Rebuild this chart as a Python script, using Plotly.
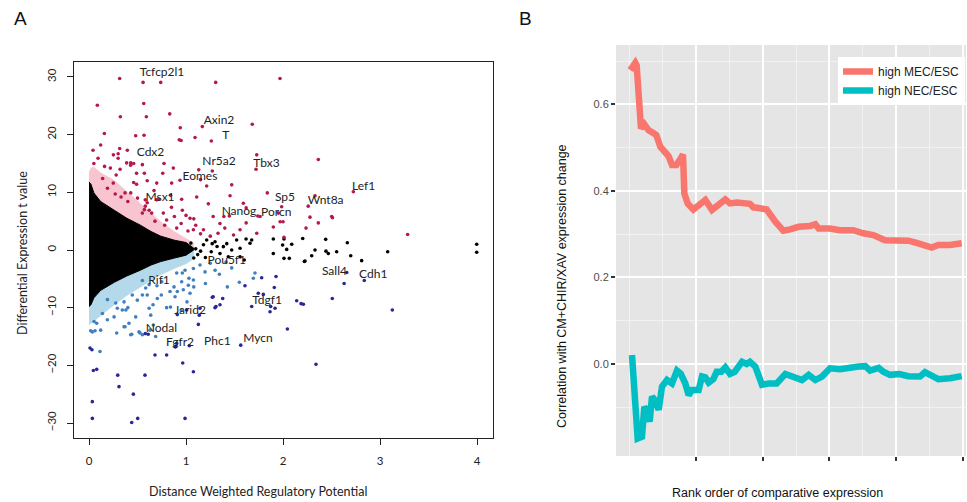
import plotly.graph_objects as go

W, H = 967, 502

# ---------------- Panel A data ----------------
# envelope of the dense point cloud
env_x = [0.0, 0.02, 0.05, 0.12, 0.26, 0.39, 0.53, 0.64, 0.74, 0.88, 1.0, 1.08]
black_top = [11.8, 11.4, 9.9, 8.4, 6.9, 5.5, 4.3, 3.2, 2.4, 1.7, 1.3, 0.3]
black_bottom = [-9.8, -9.5, -8.3, -7.0, -5.6, -4.5, -3.5, -2.6, -2.0, -1.4, -0.9, 0.0]
pink_top = [13.5, 14.2, 14.4, 13.4, 12.1, 10.2, 8.0, 6.4, 4.9, 3.2, 2.0, 1.2]
lblue_bottom = [-13.0, -12.7, -12.2, -11.3, -9.5, -7.9, -6.4, -5.3, -4.3, -3.2, -2.4, -1.5]

up_pts = [
    (0.316, 29.75), (0.557, 29.06), (0.739, 29.06), (1.306, 29.06), (1.969, 29.75),
    (0.086, 25.1), (0.564, 25.4), (0.323, 23.1), (0.591, 23.1), (0.832, 23.6),
    (0.158, 20.2), (0.481, 19.8), (0.567, 19.9), (0.941, 21.2), (0.93, 19.1), (0.95, 19.0),
    (1.093, 19.5), (1.168, 21.4), (1.261, 18.9), (1.683, 21.8), (1.729, 16.5), (2.364, 15.7),
    (1.722, 14.0), (0.041, 17.3), (0.316, 17.6), (0.395, 17.3), (0.251, 16.5), (0.093, 15.9),
    (0.30, 15.9), (0.429, 14.7), (0.46, 15.0), (0.773, 15.0), (0.869, 14.2), (0.852, 11.6),
    (0.698, 11.6), (0.57, 13.3), (0.55, 14.8), (0.60, 12.0), (1.271, 13.7), (1.131, 13.9),
    (1.471, 11.3), (1.454, 9.4), (0.938, 12.1), (1.213, 11.1), (1.15, 12.2), (1.838, 9.9),
    (1.591, 8.1), (1.62, 7.3), (1.763, 5.8), (1.952, 6.4), (1.986, 7.5), (1.97, 4.9),
    (2.0, 4.9), (2.01, 2.2), (2.26, 7.6), (2.33, 9.4), (2.278, 5.7), (2.237, 3.8),
    (2.364, 4.7), (2.502, 5.8), (2.51, 5.6), (2.725, 10.1), (3.285, 2.7), (1.447, 5.9),
    (1.39, 5.8), (1.35, 4.6), (1.49, 2.6), (1.557, 3.5), (1.729, 2.9), (1.74, 5.9),
    (1.9, 4.0), (0.49, 13.3), (0.32, 14.0), (0.22, 14.2), (0.388, 15.1), (0.43, 15.1),
    (0.30, 16.7), (0.46, 11.7), (0.49, 11.4), (0.25, 11.6), (0.28, 13.0), (0.371, 9.9),
    (0.43, 9.9), (0.955, 8.8), (0.962, 6.9), (1.0, 6.0), (1.041, 5.5), (1.08, 5.4),
    (1.10, 4.3), (1.11, 9.2), (1.23, 8.0), (1.28, 5.8), (1.076, 3.5), (1.18, 3.5),
    (0.80, 5.2), (0.766, 6.4), (0.698, 8.7), (0.904, 3.8), (0.58, 8.7), (0.58, 7.6),
    (0.60, 8.2), (0.57, 7.0), (0.62, 6.9), (0.646, 6.4), (0.55, 6.4), (0.16, 14.5),
    (0.14, 12.4), (0.19, 10.7), (0.27, 9.7), (0.33, 9.2), (0.40, 8.4), (0.50, 9.0),
    (0.67, 10.3), (0.72, 8.8), (0.85, 7.4), (0.88, 5.8), (0.95, 4.6), (0.78, 4.3),
    (0.68, 5.0), (1.02, 3.3), (1.15, 2.8), (1.25, 2.4), (1.33, 2.9), (1.40, 3.8),
    (1.62, 4.7), (0.84, 9.5), (0.76, 13.3), (0.05, 15.0), (0.12, 18.2),
]
down_pts = [
    (0.99, -3.5), (1.076, -3.2), (1.144, -2.6), (1.196, -3.8), (0.904, -4.0), (0.955, -5.5),
    (1.024, -6.1), (0.835, -7.2), (0.972, -6.9), (1.041, -7.5), (0.887, -8.1), (1.076, -5.2),
    (1.344, -4.2), (1.426, -6.4), (1.711, -4.0), (1.694, -4.9), (1.412, -2.1), (1.471, -3.1),
    (0.034, -14.2), (0.052, -12.4), (0.12, -13.9), (0.189, -12.1), (0.292, -10.1),
    (0.343, -10.4), (0.38, -10.4), (0.40, -10.0), (0.361, -9.0), (0.258, -11.6),
    (0.361, -13.3), (0.412, -12.7), (0.481, -11.6), (0.498, -8.7), (0.446, -7.8),
    (0.55, -7.8), (0.584, -6.6), (0.619, -10.1), (0.636, -11.3), (0.515, -14.2),
    (0.43, -14.7), (0.687, -15.0), (0.704, -8.4), (0.745, -7.8), (0.876, -6.4), (0.91, -7.2),
    (0.962, -4.0), (1.03, -4.9), (1.08, -6.4), (1.01, -9.0), (0.275, -9.2), (0.138, -11.0),
    (0.017, -14.0), (0.062, -14.0), (0.079, -12.7), (0.113, -17.6), (0.285, -14.4),
    (0.371, -13.3), (0.44, -14.6), (0.526, -14.4), (0.55, -14.7), (0.629, -13.9),
    (0.663, -13.0), (0.60, -7.8), (0.62, -6.0), (0.66, -9.5), (0.75, -5.5), (0.80, -10.0),
    (0.55, -5.3), (1.25, -2.3), (1.30, -3.5), (1.55, -5.6), (1.20, -5.8), (0.70, -6.2),
    (0.19, -8.6), (0.84, -9.9), (0.95, -10.5),
]
strong_down_pts = [
    (0.034, -26.3), (0.034, -29.2), (0.01, -17.0), (0.03, -17.3), (0.045, -20.9),
    (0.079, -20.7), (0.296, -21.7), (0.309, -23.7), (0.457, -25.0), (0.44, -29.9),
    (0.502, -29.2), (0.577, -21.7), (0.68, -18.2), (0.80, -18.2), (0.966, -19.6),
    (0.99, -29.2), (1.076, -21.1), (1.034, -16.6), (0.904, -16.2), (0.89, -16.8),
    (1.127, -12.9), (1.007, -10.4), (0.91, -11.2), (1.144, -10.1), (1.137, -11.3),
    (1.271, -8.2), (1.299, -10.0), (1.35, -9.5), (1.378, -8.4), (1.28, -8.1), (1.309, -9.8),
    (1.564, -16.5), (1.677, -9.8), (1.866, -10.7), (1.918, -10.1), (1.91, -6.5),
    (1.928, -4.6), (1.78, -4.8), (1.797, -7.7), (1.745, -7.5), (1.608, -6.2), (1.873, -9.8),
    (2.045, -13.7), (2.141, -8.8), (2.186, -9.3), (2.21, -9.4), (2.34, -19.8), (2.508, -8.4),
    (2.63, -5.8), (2.657, -3.9), (2.838, -5.3), (3.127, -10.4), (0.61, -14.6), (0.58, -14.5),
]
neutral_pts = [
    (2.203, 2.0), (2.44, 1.85), (2.663, 1.27), (2.33, 0.0), (2.443, -0.2), (2.467, -0.6),
    (2.553, -0.3), (2.296, -1.0), (2.22, -2.0), (2.698, -1.0), (2.811, -1.85), (3.079, -0.3),
    (3.997, 1.0), (3.997, -0.4), (1.90, 1.9), (2.01, 1.9), (1.996, 0.87), (2.09, 1.0),
    (2.038, 0.1), (1.90, -0.6), (2.01, -1.45), (2.065, -1.45), (2.227, -1.9), (1.677, 1.73),
    (1.619, 1.9), (1.522, 1.73), (1.557, 0.3), (1.66, 1.16), (1.471, 0.0), (1.385, 0.58),
    (1.299, 1.44), (1.213, 1.73), (1.557, -1.16), (1.6, -1.73), (1.436, -1.16), (1.35, -0.6),
    (1.26, -0.3), (1.18, 0.9), (1.12, -0.8), (1.05, 1.2), (1.1, 0.2), (0.98, -0.5),
    (1.0, 0.7), (1.2, -1.3), (1.32, 0.6), (1.42, 1.1), (1.27, 1.1), (1.15, -0.2), (1.08, -1.4),
]

gene_names = ["Tcfcp2l1", "Axin2", "T", "Cdx2", "Nr5a2", "Tbx3", "Eomes", "Lef1", "Msx1",
              "Sp5", "Wnt8a", "Nanog", "Porcn", "Pou5f1", "Rif1", "Sall4", "Cdh1", "Tdgf1",
              "Jarid2", "Nodal", "Fgfr2", "Phc1", "Mycn"]
gene_x = [0.753, 1.34, 1.41, 0.634, 1.34, 1.83, 1.144, 2.83, 0.732,
          2.02, 2.44, 1.546, 1.93, 1.42, 0.722, 2.53, 2.93, 1.835,
          1.041, 0.747, 0.938, 1.323, 1.742]
gene_y = [30.7, 22.3, 19.8, 16.9, 15.3, 14.9, 12.7, 11.0, 9.0,
          9.1, 8.5, 6.6, 6.4, -1.85, -5.3, -3.9, -4.3, -8.8,
          -10.5, -13.7, -16.1, -15.9, -15.4]

a_xticks = [0, 1, 2, 3, 4]
a_yticks = [-30, -20, -10, 0, 10, 20, 30]

# ---------------- Panel B data ----------------
mec_rank = [1.5, 9, 11, 14, 17.5, 22.5, 29, 35.5, 40.5, 46.5, 52.5, 59, 64, 70.5, 75.5, 80.5,
            82.5, 87.5, 96, 104, 114, 124, 134, 144, 151, 161, 181, 186, 196, 206, 219, 231,
            241, 254, 271, 279, 284, 301, 316, 336, 351, 366, 383.5, 396, 418.5, 431, 443.5,
            453.5, 463.5, 481, 498.5]
mec_corr = [0.679, 0.696, 0.69, 0.61, 0.544, 0.554, 0.540, 0.534, 0.529, 0.502, 0.490, 0.480,
            0.460, 0.460, 0.471, 0.484, 0.394, 0.371, 0.357, 0.367, 0.379, 0.356, 0.367, 0.380,
            0.371, 0.373, 0.370, 0.362, 0.360, 0.357, 0.329, 0.308, 0.311, 0.317, 0.319, 0.323,
            0.313, 0.313, 0.309, 0.309, 0.302, 0.298, 0.286, 0.285, 0.285, 0.280, 0.272, 0.269,
            0.275, 0.275, 0.279]
nec_rank = [4, 12.5, 19, 22.5, 26, 30.5, 34, 38, 44, 49, 56.5, 64, 71.5, 77, 84, 89, 94, 104,
            109, 114, 119, 126, 131, 138, 144, 151, 158, 169, 176, 181, 189, 194, 199, 209, 221,
            234, 246, 259, 269, 279, 289, 301, 316, 329, 344, 354, 361, 374, 381, 391, 405,
            418.5, 436, 443.5, 453, 463.5, 481, 498.5]
nec_corr = [0.021, -0.172, -0.168, -0.099, -0.106, -0.133, -0.075, -0.083, -0.106, -0.052,
            -0.037, -0.045, -0.015, -0.022, -0.045, -0.072, -0.060, -0.060, -0.029, -0.031,
            -0.043, -0.035, -0.018, -0.018, -0.008, -0.023, -0.018, 0.005, 0.000, 0.005,
            -0.006, -0.033, -0.048, -0.045, -0.045, -0.023, -0.028, -0.037, -0.025, -0.037,
            -0.029, -0.010, -0.012, -0.008, -0.006, -0.005, -0.015, -0.009, -0.018, -0.025,
            -0.023, -0.028, -0.029, -0.019, -0.025, -0.035, -0.033, -0.028]
b_xticks = [100, 200, 300, 400, 500]
b_xminor = [0, 50, 150, 250, 350, 450]
b_yticks = [0.0, 0.2, 0.4, 0.6]
b_yticktext = ["0.0", "0.2", "0.4", "0.6"]
b_yminor = [-0.1, 0.1, 0.3, 0.5, 0.7]
series_names = ["high MEC/ESC", "high NEC/ESC"]

# ---------------- colours ----------------
C_PINK = "#f8c4cf"
C_LBLUE = "#b3d9ea"
C_UP = "#b5174f"
C_DOWN = "#3d7fc1"
C_STRONG = "#27279a"
C_BLACK = "#000000"
C_MEC = "#F8766D"
C_NEC = "#00BFC4"


def px(x):
    return x / W


def py(y):
    return 1 - y / H


fig = go.Figure()


def poly(xs, top, bottom):
    return xs + xs[::-1], top + bottom[::-1]


zeros = [0.0] * len(env_x)
xx, yy = poly(env_x, pink_top, zeros)
fig.add_trace(go.Scatter(x=xx, y=yy, fill="toself", fillcolor=C_PINK, mode="lines",
                         line=dict(width=0.5, color=C_PINK), hoverinfo="skip",
                         showlegend=False, xaxis="x", yaxis="y"))
xx, yy = poly(env_x, zeros, lblue_bottom)
fig.add_trace(go.Scatter(x=xx, y=yy, fill="toself", fillcolor=C_LBLUE, mode="lines",
                         line=dict(width=0.5, color=C_LBLUE), hoverinfo="skip",
                         showlegend=False, xaxis="x", yaxis="y"))
xx, yy = poly(env_x, black_top, black_bottom)
fig.add_trace(go.Scatter(x=xx, y=yy, fill="toself", fillcolor=C_BLACK, mode="lines",
                         line=dict(width=1, color=C_BLACK), hoverinfo="skip",
                         showlegend=False, xaxis="x", yaxis="y"))

for pts, col in [(neutral_pts, C_BLACK), (up_pts, C_UP), (down_pts, C_DOWN),
                 (strong_down_pts, C_STRONG)]:
    fig.add_trace(go.Scatter(x=[p[0] for p in pts], y=[p[1] for p in pts], mode="markers",
                             marker=dict(size=3.6, color=col, line=dict(width=0)),
                             showlegend=False, xaxis="x", yaxis="y"))

fig.add_trace(go.Scatter(x=gene_x, y=gene_y, mode="text", text=gene_names,
                         textfont=dict(family="Lato", size=12, color="#222222"),
                         textposition="middle center", showlegend=False,
                         xaxis="x", yaxis="y"))

# Panel B lines
fig.add_trace(go.Scatter(x=mec_rank, y=mec_corr, mode="lines", name=series_names[0],
                         line=dict(color=C_MEC, width=6.5), xaxis="x2", yaxis="y2"))
fig.add_trace(go.Scatter(x=nec_rank, y=nec_corr, mode="lines", name=series_names[1],
                         line=dict(color=C_NEC, width=6.5), xaxis="x2", yaxis="y2"))

fontA = dict(family="Lato", size=11.5, color="#222222")
fontB = dict(family="Liberation Sans", size=11, color="#4d4d4d")

fig.update_layout(
    width=W, height=H, margin=dict(l=0, r=0, t=0, b=0),
    paper_bgcolor="white", plot_bgcolor="white",
    xaxis=dict(domain=[px(74), px(493)], range=[-0.155, 4.165], tickvals=a_xticks,
               ticks="outside", ticklen=6, tickcolor="#222", showline=True, linecolor="#222",
               linewidth=1, mirror=True, showgrid=False, zeroline=False, tickfont=fontA,
               anchor="y", ticklabelstandoff=6),
    yaxis=dict(domain=[py(438), py(62)], range=[-32.6, 32.6], tickvals=a_yticks,
               ticks="outside", ticklen=6, tickcolor="#222", showline=True, linecolor="#222",
               linewidth=1, mirror=True, showgrid=False, zeroline=False, tickfont=fontA,
               tickangle=-90, anchor="x", ticklabelstandoff=6),
    xaxis2=dict(domain=[px(616), px(966)], range=[-20, 505], tickvals=b_xticks,
                showticklabels=False, ticks="outside", ticklen=4, tickcolor="#333",
                tickwidth=1.5, showline=False, showgrid=True, gridcolor="white",
                gridwidth=1.6, zeroline=False, anchor="y2",
                minor=dict(tickvals=b_xminor, showgrid=True, gridcolor="#f2f2f2",
                           gridwidth=0.8, ticks="")),
    yaxis2=dict(domain=[py(456), py(45)], range=[-0.2125, 0.737], tickvals=b_yticks,
                ticktext=b_yticktext, ticks="outside", ticklen=4, tickcolor="#333",
                tickwidth=1.5, showline=False, showgrid=True, gridcolor="white",
                gridwidth=1.6, zeroline=False, tickfont=fontB, anchor="x2",
                minor=dict(tickvals=b_yminor, showgrid=True, gridcolor="#f2f2f2",
                           gridwidth=0.8, ticks="")),
    legend=dict(x=px(838), y=py(57), xanchor="left", yanchor="top", bgcolor="white",
                font=dict(family="Liberation Sans", size=12, color="#222"),
                itemwidth=30, tracegroupgap=0),
    showlegend=True,
)

# Panel B grey background
fig.add_shape(type="rect", xref="x2 domain", yref="y2 domain", x0=0, x1=1, y0=0, y1=1,
              fillcolor="#e5e5e5", line=dict(width=0), layer="below")

annos = [
    dict(text="A", x=px(20), y=py(19), font=dict(family="Liberation Sans", size=19, color="#111")),
    dict(text="B", x=px(525), y=py(19), font=dict(family="Liberation Sans", size=19, color="#111")),
    dict(text="Differential Expression t value", x=px(22), y=py(253), textangle=-90,
         font=dict(family="Lato", size=12.5, color="#222")),
    dict(text="Distance Weighted Regulatory Potential", x=px(258), y=py(491),
         font=dict(family="Lato", size=12.5, color="#222")),
    dict(text="Correlation with CM+CHIR/XAV expression change", x=px(562), y=py(286),
         textangle=-90, font=dict(family="Liberation Sans", size=12.5, color="#111")),
    dict(text="Rank order of comparative expression", x=px(777), y=py(493),
         font=dict(family="Liberation Sans", size=12.5, color="#111")),
]
for a in annos:
    fig.add_annotation(xref="paper", yref="paper", showarrow=False, xanchor="center",
                       yanchor="middle", **a)

fig.write_html("out.html", config={"responsive": False, "displayModeBar": False},
               post_script="document.body.style.margin='0';document.body.style.overflow='hidden';")
